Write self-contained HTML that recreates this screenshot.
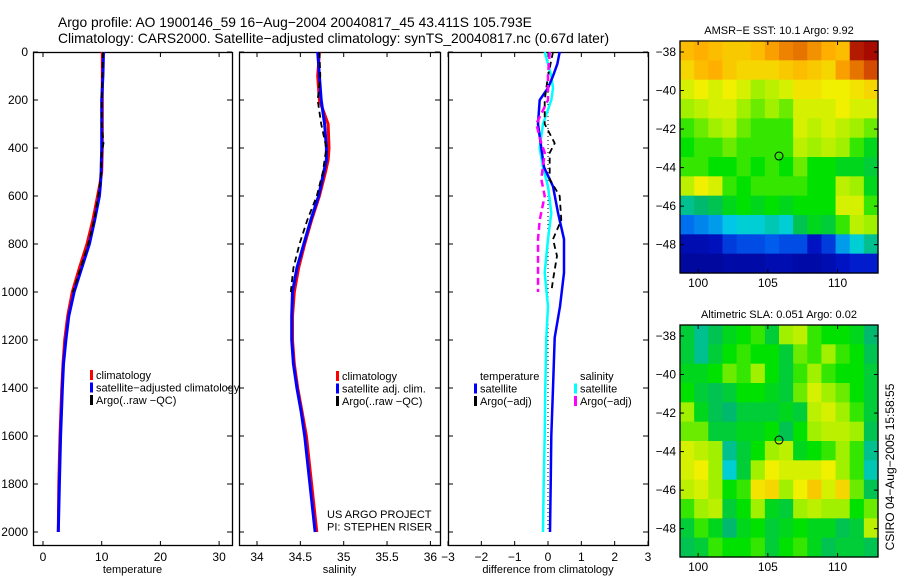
<!DOCTYPE html>
<html><head><meta charset="utf-8"><style>
html,body{margin:0;padding:0;background:#fff;}
svg{display:block;font-family:"Liberation Sans",sans-serif;}
</style></head><body>
<svg id="fig" width="900" height="580" viewBox="0 0 900 580" xmlns="http://www.w3.org/2000/svg">
<text x="58" y="27" font-size="13.8">Argo profile: AO 1900146_59 16−Aug−2004 20040817_45 43.411S 105.793E</text>
<text x="58" y="43" font-size="13.8">Climatology: CARS2000. Satellite−adjusted climatology: synTS_20040817.nc (0.67d later)</text>
<g id="maps"></g>
<g id="panels"></g>
<text transform="translate(894,467) rotate(-90)" text-anchor="middle" font-size="12">CSIRO 04−Aug−2005 15:58:55</text>
</svg>
<script>
// ---------- data ----------
const depthT = [0,100,200,300,400,500,550,600,700,800,900,1000,1100,1200,1300,1400,1600,1800,2000];
const tempClim = [10.1,10.1,10.1,10.1,10.1,10.0,9.7,9.3,8.5,7.5,6.2,5.0,4.2,3.7,3.4,3.2,2.9,2.7,2.6];
const tempSat  = [10.3,10.2,10.0,10.0,10.0,9.9,9.8,9.6,8.8,7.9,6.6,5.3,4.4,3.9,3.5,3.3,3.0,2.8,2.6];
const depthArgoT = [0,100,200,300,380,420,500,550,600,700,800,900,1000];
const tempArgo = [10.2,10.1,10.0,10.0,10.3,10.0,9.9,9.7,9.4,8.7,7.7,6.4,5.1];

const depthS = [0,100,200,300,400,450,500,600,700,800,900,1000,1100,1200,1300,1400,1500,1600,1800,2000];
const salClim = [34.72,34.70,34.72,34.82,34.83,34.82,34.79,34.72,34.63,34.55,34.48,34.43,34.41,34.41,34.43,34.47,34.52,34.57,34.63,34.69];
const salSat  = [34.70,34.72,34.74,34.78,34.80,34.80,34.77,34.71,34.62,34.54,34.46,34.41,34.40,34.40,34.42,34.46,34.51,34.55,34.61,34.67];
const depthArgoS = [0,100,200,300,400,450,500,600,700,800,900,1000];
const salArgo = [34.72,34.73,34.70,34.74,34.80,34.78,34.76,34.69,34.58,34.49,34.42,34.39];

const depthD = [0,50,100,150,200,300,400,480,560,670,780,920,1060,1190,1400,1600,1800,2000];
const diffTsat = [0.35,0.28,0.15,0.0,-0.25,-0.3,-0.2,-0.12,0.15,0.3,0.48,0.48,0.36,0.2,0.15,0.1,0.08,0.06];
const diffSsat = [-0.1,0.0,0.1,0.15,0.1,-0.15,-0.25,-0.15,0.0,0.1,0.0,-0.1,0.0,-0.05,-0.08,-0.1,-0.13,-0.15];
const depthDA = [0,100,200,300,380,420,530,600,700,780,850,950,1000];
const diffTargo = [0.15,0.0,-0.1,-0.1,0.2,0.05,0.05,0.35,0.4,0.15,0.27,0.15,0.1];
const diffSargo = [0.05,0.0,0.0,-0.35,-0.2,-0.1,-0.2,-0.1,-0.25,-0.3,-0.3,-0.3,-0.3];

const depthTicks = [0,200,400,600,800,1000,1200,1400,1600,1800,2000];
const tempTicks = [0,10,20,30];
const salTicks = [34,34.5,35,35.5,36];
const salTickLabels = ["34","34.5","35","35.5","36"];
const diffTicks = [-3,-2,-1,0,1,2,3];
const diffTickLabels = ["−3","−2","−1","0","1","2","3"];

const latTicks = [-38,-40,-42,-44,-46,-48];
const latTickLabels = ["−38","−40","−42","−44","−46","−48"];
const lonTicks = [100,105,110];

// gridded map values (0..100 on colormap), rows north->south
const sstGrid = [
[70,72,70,68,68,70,74,78,80,76,72,70,95,98],
[66,70,72,68,66,66,66,68,70,68,66,74,80,86],
[60,62,60,62,60,56,58,60,64,64,62,62,64,66],
[56,58,60,60,56,54,56,54,60,60,60,62,60,60],
[52,54,56,58,54,52,52,52,60,58,60,58,56,54],
[50,52,52,54,52,52,52,52,58,56,58,56,52,48],
[52,52,50,50,52,50,52,50,54,50,50,48,48,46],
[58,62,60,52,50,52,52,52,52,50,50,58,56,48],
[40,42,44,48,50,48,50,48,50,50,50,60,60,52],
[26,28,30,34,36,36,38,36,44,48,46,52,58,56],
[10,10,12,20,22,22,24,22,22,14,20,30,36,40],
[6,6,6,8,8,8,10,10,8,8,10,14,16,16]];
const slaGrid = [
[46,40,44,48,50,52,46,56,58,52,50,50,48,42],
[46,40,46,50,52,50,50,46,54,52,56,52,50,44],
[48,48,50,54,52,56,50,46,52,56,52,50,50,46],
[50,46,44,46,50,50,48,46,54,60,56,54,50,46],
[56,48,44,42,46,46,46,48,46,58,60,56,52,46],
[54,54,46,46,48,48,50,44,50,56,58,58,56,44],
[60,58,56,40,46,50,56,58,48,50,52,56,52,40],
[60,62,56,36,46,56,62,60,60,60,62,56,52,38],
[58,60,56,50,52,64,66,56,62,68,60,66,54,44],
[52,56,58,46,50,56,48,46,56,58,56,56,50,54],
[46,52,48,42,48,50,46,48,50,48,48,44,46,58],
[44,46,52,50,50,52,46,50,52,48,44,46,46,44]];
const floatLon = 105.8, floatLat = -43.4;

// ---------- helpers ----------
const NS="http://www.w3.org/2000/svg";
function mk(tag, attrs, parent){const e=document.createElementNS(NS,tag);for(const k in attrs)e.setAttribute(k,attrs[k]);parent.appendChild(e);return e;}
const yD = d => 52 + d*0.24;
const panelsG=document.getElementById('panels');
const mapsG=document.getElementById('maps');

function frame(x0,x1,xs,ticks,labels,xlabel,name,leftLabels){
  const g=mk('g',{},panelsG);
  
  
  const r=mk('rect',{x:x0+0.5,y:52.5,width:x1-x0,height:493,fill:'none',stroke:'#000','stroke-width':1.3},g);
  
  
  ticks.forEach((t,i)=>{
    const x=xs(t);
    mk('line',{x1:x,x2:x,y1:546,y2:541,stroke:'#000'},g);
    mk('line',{x1:x,x2:x,y1:52,y2:57,stroke:'#000'},g);
    const tl=mk('text',{x:x,y:561,'font-size':12,'text-anchor':'middle'},g);
    
    
    tl.textContent=labels[i];
  });
  depthTicks.forEach(d=>{
    const y=yD(d);
    mk('line',{x1:x0,x2:x0+5,y1:y,y2:y,stroke:'#000'},g);
    mk('line',{x1:x1,x2:x1-5,y1:y,y2:y,stroke:'#000'},g);
    if(leftLabels){
      const tl=mk('text',{x:28,y:y+4,'font-size':12,'text-anchor':'end'},g);
      
      
      tl.textContent=String(d);
    }
  });
  const xl=mk('text',{x:(x0+x1)/2,y:573,'font-size':11,'text-anchor':'middle'},g);
  
  
  xl.textContent=xlabel;
  return g;
}
function line(g,xs,vals,depths,color,w,dash,name){
  const pts=vals.map((v,i)=>xs(v).toFixed(1)+','+yD(depths[i]).toFixed(1)).join(' ');
  const p=mk('polyline',{points:pts,fill:'none',stroke:color,'stroke-width':w,'stroke-dasharray':dash||'none'},g);
  
  
}
function legend(g,x,y,items){
  items.forEach((it,i)=>{
    const yy=y+i*12.5;
    if(it.c){const b=mk('rect',{x:x,y:yy-9,width:3,height:10,fill:it.c},g);
      
      }
    const t=mk('text',{x:x+6,y:yy,'font-size':11},g);
    
    
    t.textContent=it.t;
  });
}

// temperature panel
const xT=v=>43+v*5.87;
let g1=frame(33,232,xT,tempTicks,tempTicks.map(String),'temperature','temperature-panel',true);
line(g1,xT,tempClim,depthT,'#f00',3,null,'temp-climatology-line');
line(g1,xT,tempSat,depthT,'#00f',3,null,'temp-satellite-line');
line(g1,xT,tempArgo,depthArgoT,'#000',1.8,'6,4','temp-argo-line');
legend(g1,90,379,[{c:'#f00',t:'climatology'},{c:'#00f',t:'satellite−adjusted climatology'},{c:'#000',t:'Argo(..raw −QC)'}]);

// salinity panel
const xS=v=>257+(v-34)*86.7;
let g2=frame(239,440,xS,salTicks,salTickLabels,'salinity','salinity-panel',false);
line(g2,xS,salClim,depthS,'#f00',3,null,'sal-climatology-line');
line(g2,xS,salSat,depthS,'#00f',3,null,'sal-satellite-line');
line(g2,xS,salArgo,depthArgoS,'#000',1.8,'6,4','sal-argo-line');
legend(g2,336,380,[{c:'#f00',t:'climatology'},{c:'#00f',t:'satellite adj. clim.'},{c:'#000',t:'Argo(..raw −QC)'}]);
legend(g2,321,518,[{t:'US ARGO PROJECT'},{t:'PI: STEPHEN RISER'}]);

// difference panel
const xDf=v=>548+v*33.33;
let g3=frame(448,648,xDf,diffTicks,diffTickLabels,'difference from climatology','difference-panel',false);
line(g3,xDf,[0,0],[0,2000],'#000',1,'1,3','zero-reference-line');
line(g3,xDf,diffSsat,depthD,'#0ff',2.5,null,'sal-satellite-diff-line');
line(g3,xDf,diffTsat,depthD,'#00f',2.5,null,'temp-satellite-diff-line');
line(g3,xDf,diffTargo,depthDA,'#000',1.8,'6,4','temp-argo-diff-line');
line(g3,xDf,diffSargo,depthDA,'#f0f',2.5,'7,4','sal-argo-diff-line');
legend(g3,474,380,[{t:'temperature'},{c:'#00f',t:'satellite'},{c:'#000',t:'Argo(−adj)'}]);
legend(g3,574,380,[{t:'salinity'},{c:'#0ff',t:'satellite'},{c:'#f0f',t:'Argo(−adj)'}]);

// ---------- maps ----------
const cmapStops=[[0,[0,0,130]],[0.15,[0,20,200]],[0.25,[0,100,240]],[0.35,[0,210,230]],[0.42,[0,185,110]],[0.5,[0,225,0]],[0.56,[160,240,0]],[0.62,[240,240,0]],[0.72,[255,175,0]],[0.85,[215,80,0]],[1,[160,0,0]]];
function cmap(v){
  for(let i=1;i<cmapStops.length;i++){
    if(v<=cmapStops[i][0]){
      const [a,ca]=cmapStops[i-1],[b,cb]=cmapStops[i];const f=(v-a)/(b-a);
      return 'rgb('+ca.map((c,k)=>Math.round(c+(cb[k]-c)*f)).join(',')+')';
    }
  }
  return 'rgb(160,0,0)';
}
function drawMap(top,bottom,grid,title,name){
  const x0=680,x1=878,lon0=98.7,lon1=112.9,lat0=-37.43,lat1=-49.47;
  const xl=l=>x0+(l-lon0)/(lon1-lon0)*(x1-x0);
  const yl=l=>top+(l-lat0)/(lat1-lat0)*(bottom-top);
  const g=mk('g',{},mapsG);
  
  
  const rows=grid.length,cols=grid[0].length;
  const cw=(x1-x0)/cols,ch=(bottom-top)/rows;
  grid.forEach((row,ri)=>row.forEach((v,ci)=>{
    const c=mk('rect',{x:(x0+ci*cw).toFixed(2),y:(top+ri*ch).toFixed(2),width:(cw+0.6).toFixed(2),height:(ch+0.6).toFixed(2),fill:cmap(v/100)},g);
    
    
  }));
  const fr=mk('rect',{x:x0,y:top,width:x1-x0,height:bottom-top,fill:'none',stroke:'#000','stroke-width':1.3},g);
  
  
  lonTicks.forEach(l=>{
    const x=xl(l);
    mk('line',{x1:x,x2:x,y1:top,y2:top+4,stroke:'#000'},g);
    mk('line',{x1:x,x2:x,y1:bottom,y2:bottom-4,stroke:'#000'},g);
    const t=mk('text',{x:x,y:bottom+14,'font-size':12,'text-anchor':'middle'},g);
    
    
    t.textContent=String(l);
  });
  latTicks.forEach((l,i)=>{
    const y=yl(l);
    mk('line',{x1:x0,x2:x0+4,y1:y,y2:y,stroke:'#000'},g);
    mk('line',{x1:x1,x2:x1-4,y1:y,y2:y,stroke:'#000'},g);
    const t=mk('text',{x:676,y:y+4,'font-size':12,'text-anchor':'end'},g);
    
    
    t.textContent=latTickLabels[i];
  });
  const ci=mk('circle',{cx:xl(floatLon),cy:yl(floatLat),r:4,fill:'none',stroke:'#000','stroke-width':1},g);
  
  
  const tt=mk('text',{x:(x0+x1)/2,y:top-7,'font-size':11,'text-anchor':'middle'},g);
  
  
  tt.textContent=title;
}
drawMap(41,273,sstGrid,'AMSR−E SST: 10.1 Argo: 9.92','sst-map');
drawMap(325,557,slaGrid,'Altimetric SLA: 0.051 Argo: 0.02','sla-map');
</script>
</body></html>
